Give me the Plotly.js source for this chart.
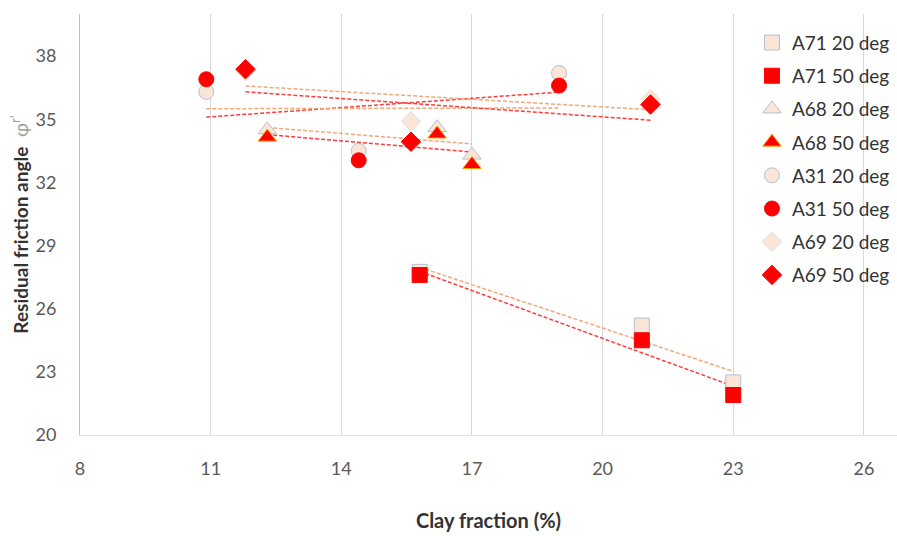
<!DOCTYPE html>
<html>
<head>
<meta charset="utf-8">
<script src="https://cdn.plot.ly/plotly-3.0.1.min.js"></script>
<style>html,body{margin:0;padding:0;background:#fff;}#chart{width:897px;height:536px;}</style>
</head>
<body>
<div id="chart"></div>
<script>
// ---- data ----
const seriesNames = ["A71 20 deg","A71 50 deg","A68 20 deg","A68 50 deg","A31 20 deg","A31 50 deg","A69 20 deg","A69 50 deg"];

const a71_x = [15.8, 20.9, 23.0];
const a71_20_y = [27.75, 25.2, 22.5];
const a71_50_y = [27.6, 24.5, 21.9];

const a68_x = [12.3, 16.2, 17.0];
const a68_20_y = [34.5, 34.6, 33.3];
const a68_50_y = [34.15, 34.3, 32.85];

const a31_x = [10.9, 14.4, 19.0];
const a31_20_y = [36.3, 33.5, 37.2];
const a31_50_y = [36.9, 33.05, 36.6];

const a69_x = [11.8, 15.6, 21.1];
const a69_20_y = [37.3, 34.9, 35.95];
const a69_50_y = [37.38, 33.93, 35.7];

const xTicks = [8, 11, 14, 17, 20, 23, 26];
const yTicks = [20, 23, 26, 29, 32, 35, 38];

// ---- styles ----
const light = '#FBE5D6', lightEdge = '#B4C0D0';
const red = '#FF0000';
const trOrange = '#F0A878', trRed = '#FF3B3B';

function fit(xs, ys) {
  const n = xs.length;
  const mx = xs.reduce((a,b)=>a+b,0)/n, my = ys.reduce((a,b)=>a+b,0)/n;
  let sxy = 0, sxx = 0;
  for (let i=0;i<n;i++){ sxy += (xs[i]-mx)*(ys[i]-my); sxx += (xs[i]-mx)*(xs[i]-mx); }
  const b = sxy/sxx, a = my - b*mx;
  const x0 = Math.min(...xs), x1 = Math.max(...xs);
  return {x:[x0,x1], y:[a+b*x0, a+b*x1]};
}
function trend(xs, ys, color) {
  const f = fit(xs, ys);
  return {x:f.x, y:f.y, type:'scatter', mode:'lines', showlegend:false, hoverinfo:'skip',
          line:{color:color, width:1.5, dash:'4px,2px'}};
}

const groups = [
  {x:a71_x, y:a71_20_y, sym:'square', size:15, fill:light, edge:lightEdge, tr:trOrange},
  {x:a71_x, y:a71_50_y, sym:'square', size:15, fill:red, edge:red, tr:trRed},
  {x:a68_x, y:a68_20_y, sym:'triangle-up', size:16, fill:light, edge:lightEdge, tr:trOrange},
  {x:a68_x, y:a68_50_y, sym:'triangle-up', size:16, fill:red, edge:'#FFA000', tr:trRed},
  {x:a31_x, y:a31_20_y, sym:'circle', size:15, fill:light, edge:lightEdge, tr:trRed},
  {x:a31_x, y:a31_50_y, sym:'circle', size:15, fill:red, edge:red, tr:trOrange},
  {x:a69_x, y:a69_20_y, sym:'diamond', size:15, fill:light, edge:'#E0E0E8', tr:trOrange},
  {x:a69_x, y:a69_50_y, sym:'diamond', size:15, fill:red, edge:red, tr:trRed}
];

const traces = [];
groups.forEach(g => traces.push(trend(g.x, g.y, g.tr)));
groups.forEach((g, i) => traces.push({
  x:g.x, y:g.y, type:'scatter', mode:'markers', name:seriesNames[i], legendgroup:'g'+i,
  marker:{symbol:g.sym, size:g.size, color:g.fill, line:{color:g.edge, width:1}}
}));

const font = "Lato, 'Open Sans', 'Liberation Sans', sans-serif";
const layout = {
  width:897, height:536,
  paper_bgcolor:'#fff', plot_bgcolor:'#fff',
  margin:{l:80, r:0, t:14, b:101},
  font:{family:font, color:'#404040'},
  showlegend:true,
  legend:{x:0.8225, y:0.977, xanchor:'left', yanchor:'top', bgcolor:'rgba(255,255,255,0)',
          font:{size:19, color:'#333333', family:font}, tracegroupgap:5.5, itemwidth:30},
  xaxis:{range:[8, 26.76], tickvals:xTicks, ticktext:xTicks.map(String),
         showgrid:true, gridcolor:'#D9D9D9', gridwidth:1, zeroline:false,
         showline:true, linecolor:'#E3E3E3', linewidth:1,
         ticks:'', ticklabelstandoff:17,
         tickfont:{size:18, color:'#595959', family:font},
         title:{text:'<b>Clay fraction (%)</b>', font:{size:20, color:'#333333', family:font}, standoff:36}},
  yaxis:{range:[20, 40], tickvals:yTicks, ticktext:yTicks.map(String),
         showgrid:false, zeroline:false,
         showline:true, linecolor:'#BFBFBF', linewidth:1,
         ticks:'', ticklabelstandoff:19,
         tickfont:{size:18, color:'#595959', family:font},
         title:{text:"<b>Residual friction angle</b>  <span style='color:#A0A0A0'>φ<sup>r'</sup></span>", font:{size:19, color:'#333333', family:font}, standoff:1}}
};

Plotly.newPlot('chart', traces, layout, {staticPlot:true, displayModeBar:false});
</script>
</body>
</html>
